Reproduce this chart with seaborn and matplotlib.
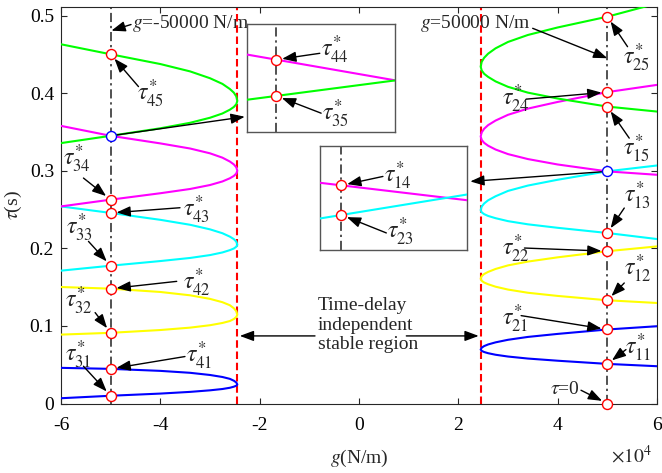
import matplotlib
matplotlib.use("Agg")
import matplotlib.pyplot as plt
import pandas as pd
import seaborn as sns

sns.set_theme(style="ticks")
plt.rcParams["font.family"] = ["Liberation Serif", "DejaVu Serif"]
plt.rcParams["mathtext.fontset"] = "stix"

# stiffness g (x 1e4 N/m), sampled from the far end towards the critical stiffness
g_left = [-6.0, -5.0, -4.0, -3.4, -3.0, -2.75, -2.6, -2.52, -2.47, -2.45]
g_right = [6.0, 5.0, 4.0, 3.4, 3.0, 2.75, 2.6, 2.52, 2.47, 2.45]

# critical time delays tau (s), upper / lower branch of each lobe, negative g
l_blue_up = [0.0460, 0.0447, 0.0421, 0.0396, 0.0368, 0.0342, 0.0318, 0.0294, 0.0271, 0.0245]
l_blue_lo = [0.0068, 0.0100, 0.0128, 0.0150, 0.0170, 0.0187, 0.0203, 0.0217, 0.0230, 0.0245]
l_yellow_up = [0.1503, 0.1482, 0.1439, 0.1396, 0.1350, 0.1307, 0.1268, 0.1229, 0.1190, 0.1147]
l_yellow_lo = [0.0889, 0.0912, 0.0948, 0.0979, 0.1010, 0.1039, 0.1064, 0.1090, 0.1117, 0.1147]
l_cyan_up = [0.2543, 0.2459, 0.2370, 0.2306, 0.2247, 0.2197, 0.2153, 0.2121, 0.2088, 0.2049]
l_cyan_lo = [0.1714, 0.1778, 0.1838, 0.1878, 0.1915, 0.1949, 0.1979, 0.2000, 0.2023, 0.2049]
l_magenta_up = [0.3582, 0.3454, 0.3356, 0.3290, 0.3228, 0.3172, 0.3122, 0.3085, 0.3047, 0.3003]
l_magenta_lo = [0.2543, 0.2630, 0.2713, 0.2768, 0.2819, 0.2865, 0.2906, 0.2936, 0.2967, 0.3003]
l_green_up = [0.4635, 0.4506, 0.4380, 0.4285, 0.4197, 0.4124, 0.4058, 0.4011, 0.3962, 0.3905]
l_green_lo = [0.3360, 0.3454, 0.3551, 0.3622, 0.3687, 0.3742, 0.3791, 0.3826, 0.3862, 0.3905]

# critical time delays tau (s), positive g
r_blue_up = [0.0997, 0.0955, 0.0898, 0.0859, 0.0822, 0.0789, 0.0762, 0.0741, 0.0720, 0.0696]
r_blue_lo = [0.0481, 0.0511, 0.0552, 0.0580, 0.0606, 0.0629, 0.0649, 0.0664, 0.0679, 0.0696]
r_yellow_up = [0.2027, 0.1965, 0.1886, 0.1831, 0.1782, 0.1736, 0.1698, 0.1671, 0.1643, 0.1611]
r_yellow_lo = [0.1297, 0.1332, 0.1388, 0.1429, 0.1470, 0.1507, 0.1539, 0.1561, 0.1584, 0.1611]
r_cyan_up = [0.3071, 0.2996, 0.2887, 0.2812, 0.2743, 0.2674, 0.2622, 0.2581, 0.2541, 0.2495]
r_cyan_lo = [0.2122, 0.2200, 0.2267, 0.2312, 0.2353, 0.2391, 0.2420, 0.2443, 0.2467, 0.2495]
r_magenta_up = [0.4111, 0.4018, 0.3891, 0.3805, 0.3725, 0.3651, 0.3592, 0.3545, 0.3498, 0.3445]
r_magenta_lo = [0.2951, 0.2995, 0.3084, 0.3154, 0.3218, 0.3277, 0.3326, 0.3363, 0.3401, 0.3445]
r_green_up = [0.5162, 0.4991, 0.4852, 0.4755, 0.4665, 0.4583, 0.4514, 0.4461, 0.4408, 0.4347]
r_green_lo = [0.3767, 0.3831, 0.3935, 0.4011, 0.4086, 0.4156, 0.4214, 0.4254, 0.4298, 0.4347]

g_crit = 2.45          # boundary of the delay-independent stable region (x 1e4 N/m)
g_sel = 5.0            # selected stiffness, g = +/-50000 N/m

# critical delays marked at g = -50000 N/m
left_names = ["45", "34", "43", "33", "42", "32", "41", "31"]
left_taus = [0.4506, 0.2630, 0.2459, 0.1778, 0.1482, 0.0912, 0.0447, 0.0100]
left_cross = 0.3454
# critical delays marked at g = 50000 N/m
right_names = ["25", "24", "15", "13", "22", "12", "21", "11", "0"]
right_taus = [0.4991, 0.4018, 0.3831, 0.2200, 0.1965, 0.1332, 0.0955, 0.0511, 0.0]
right_cross = 0.2995

# magnified views around the two crossings
in1_g = [-5.002, -4.992]
in1_magenta = [0.34562, 0.34538]
in1_green = [0.34520, 0.34538]
in1_marks = [0.345572, 0.345236]
in2_g = [4.998, 5.0116]
in2_magenta = [0.299532, 0.299364]
in2_cyan = [0.299188, 0.299419]
in2_marks = [0.299507, 0.299222]

C = {"blue": "#0000ff", "yellow": "#ffff00", "cyan": "#00ffff",
     "magenta": "#ff00ff", "green": "#00ff00"}
LW = 1.5
FS = 14
TAU_FS = 17

fig = plt.figure(figsize=(6.62, 4.73), dpi=100)
ax = fig.add_axes([61 / 662, 1 - 403.5 / 473, 596 / 662, 396.5 / 473])

lobes = [
    (g_left, l_blue_up, l_blue_lo, "blue"),
    (g_left, l_yellow_up, l_yellow_lo, "yellow"),
    (g_left, l_cyan_up, l_cyan_lo, "cyan"),
    (g_left, l_magenta_up, l_magenta_lo, "magenta"),
    (g_left, l_green_up, l_green_lo, "green"),
    (g_right, r_blue_up, r_blue_lo, "blue"),
    (g_right, r_yellow_up, r_yellow_lo, "yellow"),
    (g_right, r_cyan_up, r_cyan_lo, "cyan"),
    (g_right, r_magenta_up, r_magenta_lo, "magenta"),
    (g_right, r_green_up, r_green_lo, "green"),
]
for g, up, lo, name in lobes:
    df = pd.DataFrame({"g": list(g) + list(g[::-1]), "tau": list(up) + list(lo[::-1])})
    sns.lineplot(data=df, x="g", y="tau", sort=False, estimator=None,
                 color=C[name], lw=LW, ax=ax, zorder=3)

for gx in (-g_crit, g_crit):
    ax.axvline(gx, color="#ff0000", lw=1.5, ls=(0, (3.6, 1.8)), zorder=2)
for gx in (-g_sel, g_sel):
    ax.axvline(gx, color="#222222", lw=1.1, ls=(0, (6, 2.5, 1.5, 2.5)), zorder=2)

ax.set_xlim(-6, 6)
ax.set_ylim(0, 0.5116)
ax.set_xticks([-6, -4, -2, 0, 2, 4, 6])
ax.set_xticklabels(["-6", "-4", "-2", "0", "2", "4", "6"])
ax.set_yticks([0, 0.1, 0.2, 0.3, 0.4, 0.5])
ax.set_yticklabels(["0", "0.1", "0.2", "0.3", "0.4", "0.5"])
ax.tick_params(direction="in", length=4.5, width=0.8, top=True, right=True,
               labelsize=FS, colors="#262626", labelcolor="black")
ax.tick_params(axis="x", pad=10)
ax.tick_params(axis="y", pad=5)
for s in ax.spines.values():
    s.set_visible(True)
    s.set_color("#262626")
    s.set_linewidth(0.8)
ax.set_xlabel(r"$g$(N/m)", fontsize=FS, labelpad=10)
ax.set_ylabel(r"$\tau$(s)", fontsize=FS, labelpad=4)
ax.text(0.9916, -0.132, r"$\times10^{4}$", transform=ax.transAxes,
        ha="right", va="center", fontsize=FS)

arrow = dict(arrowstyle="-|>,head_length=0.7,head_width=0.26", color="black",
             lw=1.0, shrinkA=0, shrinkB=4.2, mutation_scale=12)
arrow0 = dict(arrow, shrinkB=0)


def mark(axis, gx, ty, edge):
    axis.plot([gx], [ty], marker="o", ms=7.2, mfc="white", mec=edge, mew=1.0,
              ls="none", clip_on=False, zorder=6)


# labelled critical delays, g = -50000 N/m
left_text = [(-4.19, 0.3995), (-5.674, 0.3157), (-3.262, 0.2500), (-5.634, 0.2268),
             (-3.272, 0.1559), (-5.634, 0.1327), (-3.222, 0.0619), (-5.654, 0.0631)]
left_tail = [(-4.44, 0.4089), (-5.548, 0.2909), (-3.604, 0.2526), (-5.447, 0.2092),
             (-3.670, 0.1576), (-5.313, 0.1173), (-3.504, 0.0606), (-5.548, 0.0481)]
for name, ty, txy, tail in zip(left_names, left_taus, left_text, left_tail):
    mark(ax, -g_sel, ty, "#ff0000")
    ax.annotate("", xy=(-g_sel, ty), xytext=tail, arrowprops=arrow, zorder=5)
    ax.text(*txy, r"$\tau_{%s}^{*}$" % name, fontsize=TAU_FS, ha="center", va="center")
mark(ax, -g_sel, left_cross, "#0000ff")

# labelled critical delays, g = 50000 N/m
right_text = [(5.582, 0.4459), (3.150, 0.3930), (5.582, 0.3286), (5.602, 0.2680),
              (3.150, 0.1997), (5.622, 0.1740), (3.150, 0.1095), (5.622, 0.0722),
              (4.155, 0.0180)]
right_tail = [(5.407, 0.4604), (3.365, 0.3927), (5.441, 0.3424), (5.341, 0.2522),
              (3.331, 0.2006), (5.341, 0.1555), (3.264, 0.1134), (5.375, 0.0696),
              (4.470, 0.0171)]
for name, ty, txy, tail in zip(right_names, right_taus, right_text, right_tail):
    mark(ax, g_sel, ty, "#ff0000")
    ax.annotate("", xy=(g_sel, ty), xytext=tail, arrowprops=arrow, zorder=5)
    if name == "0":
        ax.text(*txy, r"$\tau$=0", fontsize=FS, ha="center", va="center")
    else:
        ax.text(*txy, r"$\tau_{%s}^{*}$" % name, fontsize=TAU_FS, ha="center", va="center")
mark(ax, g_sel, right_cross, "#0000ff")

# stiffness callouts
ax.text(-4.579, 0.4897, r"$g$=-50000 N/m", fontsize=FS, ha="left", va="center", zorder=1)
ax.annotate("", xy=(-4.985, 0.4811), xytext=(-4.59, 0.4890), arrowprops=arrow0)
ax.text(1.22, 0.4897, r"$g$=50000 N/m", fontsize=FS, ha="left", va="center")
ax.annotate("", xy=(g_sel, 0.4455), xytext=(3.497, 0.4841), arrowprops=arrow0)

# delay-independent stable region
ax.text(-0.83, 0.1012, "Time-delay\nindependent\nstable region", fontsize=FS,
        ha="left", va="center", linespacing=1.18)
ax.annotate("", xy=(-2.40, 0.0872), xytext=(-0.886, 0.0872), arrowprops=arrow0)
ax.annotate("", xy=(2.41, 0.0872), xytext=(0.953, 0.0872), arrowprops=arrow0)

# pointers from the crossings to the magnified views
ax.annotate("", xy=(-2.30, 0.370), xytext=(-g_sel, left_cross),
            arrowprops=dict(arrow, shrinkA=4.2, shrinkB=0), zorder=5)
ax.annotate("", xy=(2.24, 0.2865), xytext=(g_sel, right_cross),
            arrowprops=dict(arrow, shrinkA=4.2, shrinkB=0), zorder=5)


def inset(bounds, gx, line_a, col_a, line_b, col_b, marks, gmark, labels):
    ia = ax.inset_axes(bounds, transform=ax.transData, zorder=8)
    ia.set_facecolor("white")
    ia.plot(gx, line_a, color=C[col_a], lw=LW, zorder=3)
    ia.plot(gx, line_b, color=C[col_b], lw=LW, zorder=3)
    ia.axvline(gmark, color="#222222", lw=1.1, ls=(0, (6, 2.5, 1.5, 2.5)), zorder=2)
    ia.set_xlim(gx[0], gx[1])
    lo_y = min(line_a + line_b)
    ia.set_ylim(lo_y - 0.0003, lo_y + 0.0007)
    ia.set_xticks([])
    ia.set_yticks([])
    for s in ia.spines.values():
        s.set_color("#555555")
        s.set_linewidth(1.0)
    for ty, (name, txy, tail) in zip(marks, labels):
        mark(ia, gmark, ty, "#ff0000")
        ia.annotate("", xy=(gmark, ty), xytext=tail, textcoords="axes fraction",
                    arrowprops=arrow)
        ia.text(*txy, r"$\tau_{%s}^{*}$" % name, fontsize=TAU_FS, ha="center",
                va="center", transform=ia.transAxes)
    return ia


inset([-2.263, 0.3501, 2.995, 0.1392], in1_g, in1_magenta, "magenta", in1_green, "green",
      in1_marks, -g_sel,
      [("44", (0.593, 0.762), (0.492, 0.731)), ("35", (0.599, 0.169), (0.501, 0.176))])
inset([-0.790, 0.1985, 2.965, 0.1340], in2_g, in2_magenta, "magenta", in2_cyan, "cyan",
      in2_marks, g_sel,
      [("14", (0.529, 0.712), (0.429, 0.705)), ("23", (0.549, 0.173), (0.452, 0.161))])

fig.savefig("out.png", dpi=100)
